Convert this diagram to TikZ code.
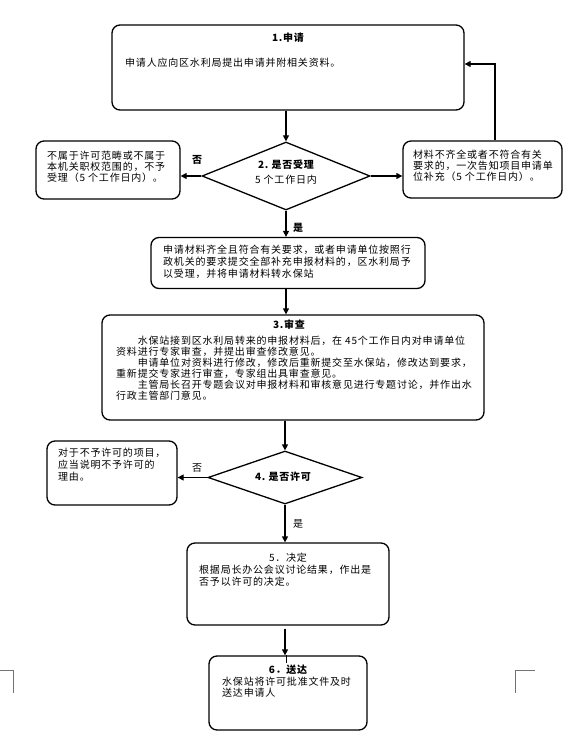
\documentclass[tikz,border=0pt]{standalone}
\usepackage{fontspec}
\setmainfont{Noto Sans CJK SC}[LetterSpace=8]
\usetikzlibrary{shapes.geometric,arrows.meta}
\tikzset{
  box/.style={draw, line width=1.3pt, rounded corners=8pt, rectangle, inner sep=0pt},
  dia/.style={draw, line width=1.3pt, diamond, inner sep=0pt},
  txt/.style={inner sep=0pt, align=left, anchor=north west, font=\fontsize{10}{11}\selectfont},
  ttl/.style={inner sep=0pt, font=\fontsize{10}{11}\selectfont\bfseries},
  plain/.style={inner sep=0pt, font=\fontsize{10}{11}\selectfont},
  arr/.style={line width=1.3pt, -{Triangle[length=6pt,width=6pt]}},
  cornermark/.style={line width=0.8pt, draw=black!55}
}
\begin{document}
\begin{tikzpicture}[x=1pt,y=-1pt]
\fill[white] (0,0) rectangle (586,735);
\useasboundingbox (0,0) rectangle (586,735);

% boxes
\node[box, minimum width=352pt, minimum height=85pt] (box1) at (288,67.5) {};
\node[dia, minimum width=168pt, minimum height=68pt] (d2) at (286,176) {};
\node[box, minimum width=144pt, minimum height=58pt] (L2) at (108,170) {};
\node[box, minimum width=159pt, minimum height=57pt] (R2) at (482.5,169.5) {};
\node[box, minimum width=274pt, minimum height=51pt] (B2) at (288,263) {};
\node[box, minimum width=382pt, minimum height=105pt] (B3) at (293,367.5) {};
\node[dia, minimum width=154pt, minimum height=53pt] (d4) at (285,477.5) {};
\node[box, minimum width=130pt, minimum height=64pt] (L4) at (112,473) {};
\node[box, minimum width=202pt, minimum height=82pt] (B5) at (288,584) {};
\node[box, minimum width=158pt, minimum height=74pt] (B6) at (288,693) {};

% texts
\node[ttl] (t1) at (288,38) {1.申请};
\node[plain, anchor=west] (t1b) at (125,63) {申请人应向区水利局提出申请并附相关资料。};

\node[txt] (tL2) at (47,151) {不属于许可范畴或不属于\\本机关职权范围的，不予\\受理（5 个工作日内）。};
\node[txt] (tR2) at (413,150) {材料不齐全或者不符合有关\\要求的，一次告知项目申请单\\位补充（5 个工作日内）。};
\node[ttl] (td2a) at (286,165) {2.\ 是否受理};
\node[plain] (td2b) at (286,180) {5 个工作日内};
\node[ttl] (no2) at (197,160) {否};
\node[ttl] (yes2) at (298,228) {是};

\node[txt, font=\fontsize{10}{12}\selectfont] (tB2) at (163,245) {申请材料齐全且符合有关要求，或者申请单位按照行\\政机关的要求提交全部补充申报材料的，区水利局予\\以受理，并将申请材料转水保站};

\node[ttl] (t3) at (289,325) {3.审查};
\node[txt, font=\fontsize{10}{11}\selectfont] (tB3) at (116,336) {\hspace*{21.6pt}水保站接到区水利局转来的申报材料后，在 45个工作日内对申请单位\\资料进行专家审查，并提出审查修改意见。\\\hspace*{21.6pt}申请单位对资料进行修改，修改后重新提交至水保站，修改达到要求，\\重新提交专家进行审查，专家组出具审查意见。\\\hspace*{21.6pt}主管局长召开专题会议对申报材料和审核意见进行专题讨论，并作出水\\行政主管部门意见。};

\node[txt, font=\fontsize{10}{12}\selectfont] (tL4) at (58,448) {对于不予许可的项目，\\应当说明不予许可的\\理由。};
\node[ttl] (td4) at (283,477) {4.\ 是否许可};
\node[plain] (no4) at (197,468) {否};
\node[plain] (yes4) at (298,524) {是};

\node[plain] (t5) at (288,558) {5．决定};
\node[txt, font=\fontsize{10}{12}\selectfont] (tB5) at (199,565) {根据局长办公会议讨论结果，作出是\\否予以许可的决定。};

\node[ttl] (t6) at (288,670) {6．送达};
\node[txt, font=\fontsize{10}{11}\selectfont] (tB6) at (222,677) {水保站将许可批准文件及时\\送达申请人};

% connectors
\draw[arr] (d2.north |- box1.south) -- (d2.north);
\draw[arr] (d2.west) -- (L2.east |- d2.west);
\draw[arr] (d2.east) -- (R2.west |- d2.east);
\draw[arr] ([xshift=12.5pt]R2.north) |- ([yshift=3.5pt]box1.east);
\draw[arr] (d2.south) -- (d2.south |- B2.north);
\draw[arr] (d2.south |- B2.south) -- (d2.south |- B3.north);
\draw[arr] (d4.north |- B3.south) -- (d4.north);
\draw[arr] (d4.west) -- (L4.east |- d4.west);
\draw[arr] (d4.south) -- (d4.south |- B5.north);
\draw[arr] ([yshift=-3pt]B5.south -| d4.south) -- (d4.south |- B6.north);
\draw[line width=1.8pt] ([xshift=1.5pt]B6.north -| d4.south) -- ++(0,8);

% page corner marks
\coordinate (mL) at (13,670);
\coordinate (mR) at (515,670);
\draw[cornermark] (0,670) -- (mL) -- (13,693);
\draw[cornermark] (535,670) -- (mR) -- (515,693);
\end{tikzpicture}
\end{document}
